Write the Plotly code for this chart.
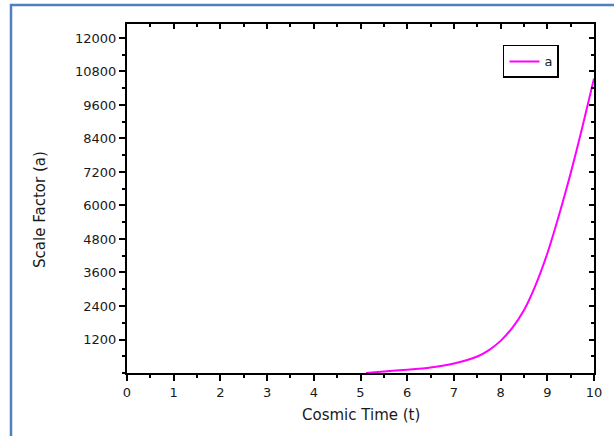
import plotly.graph_objects as go

# data
cosmic_time = [5.12, 5.5, 6.0, 6.5, 7.0, 7.5, 7.75, 8.0, 8.25, 8.5, 8.75, 9.0, 9.25, 9.5, 9.75, 10.0]
scale_factor = [0, 55, 120, 200, 340, 590, 820, 1150, 1620, 2250, 3150, 4280, 5650, 7150, 8800, 10550]
y_tick_vals = [1200, 2400, 3600, 4800, 6000, 7200, 8400, 9600, 10800, 12000]
y_tick_text = ["1200", "2400", "3600", "4800", "6000", "7200", "8400", "9600", "10800", "12000"]
x_tick_vals = [0, 1, 2, 3, 4, 5, 6, 7, 8, 9, 10]
x_tick_text = ["0", "1", "2", "3", "4", "5", "6", "7", "8", "9", "10"]
series_name = "a"

FONT = "DejaVu Sans"
MAGENTA = "#ff00ff"
TXT = "#1a1a1a"

fig = go.Figure()
fig.add_trace(go.Scatter(
    x=cosmic_time, y=scale_factor, mode="lines", name=series_name,
    line=dict(color=MAGENTA, width=2, shape="spline", smoothing=0.6),
    xaxis="x", yaxis="y",
))
# invisible copy to carry the mirrored top/right axes
fig.add_trace(go.Scatter(
    x=cosmic_time, y=scale_factor, mode="lines", showlegend=False,
    line=dict(color="rgba(0,0,0,0)", width=0), hoverinfo="skip",
    xaxis="x2", yaxis="y2",
))

tickfont = dict(family=FONT, size=13, color=TXT)
axis_common = dict(showline=True, linecolor="black", linewidth=2, showgrid=False,
                   zeroline=False, tickcolor="black", tickwidth=2)

fig.update_layout(
    width=614, height=436,
    margin=dict(l=127, r=16, t=24, b=63),
    paper_bgcolor="white", plot_bgcolor="white",
    font=dict(family=FONT, size=13, color=TXT),
    xaxis=dict(range=[0, 10], tickmode="array", tickvals=x_tick_vals, ticktext=x_tick_text,
               ticks="outside", ticklen=6, tickfont=tickfont,
               minor=dict(tickmode="linear", tick0=0, dtick=0.5, ticks="outside",
                          ticklen=3, tickwidth=2, tickcolor="black"),
               **axis_common),
    yaxis=dict(range=[0, 12500], tickmode="array", tickvals=y_tick_vals, ticktext=y_tick_text,
               ticks="outside", ticklen=6, tickfont=tickfont,
               minor=dict(tickmode="linear", tick0=0, dtick=600, ticks="outside",
                          ticklen=3, tickwidth=2, tickcolor="black"),
               **axis_common),
    xaxis2=dict(range=[0, 10], overlaying="x", side="top", anchor="y2",
                tickmode="array", tickvals=x_tick_vals, showticklabels=False,
                ticks="inside", ticklen=5,
                minor=dict(tickmode="linear", tick0=0, dtick=0.5, ticks="inside",
                           ticklen=3, tickwidth=2, tickcolor="black"),
                **axis_common),
    yaxis2=dict(range=[0, 12500], overlaying="y", side="right", anchor="x2",
                tickmode="array", tickvals=y_tick_vals, showticklabels=False,
                ticks="inside", ticklen=5,
                minor=dict(tickmode="linear", tick0=0, dtick=600, ticks="inside",
                           ticklen=3, tickwidth=2, tickcolor="black"),
                **axis_common),
    legend=dict(x=0.925, y=0.94, xanchor="right", yanchor="top",
                bordercolor="black", borderwidth=1.5, bgcolor="white",
                font=dict(family=FONT, size=13, color=TXT),
                tracegroupgap=0),
    showlegend=True,
    annotations=[
        dict(text="Cosmic Time (t)", xref="paper", yref="paper",
             x=0.5, y=-0.12, xanchor="center", yanchor="middle", showarrow=False,
             font=dict(family=FONT, size=15, color=TXT)),
        dict(text="Scale Factor (a)", xref="paper", yref="paper",
             x=-0.185, y=0.469, xanchor="center", yanchor="middle", showarrow=False,
             textangle=-90, font=dict(family=FONT, size=15, color=TXT)),
    ],
    shapes=[
        dict(type="path", xref="paper", yref="paper",
             path="M -0.2484,-0.5 L -0.2484,1.0544 L 1.2,1.0544",
             line=dict(color="#4f81bd", width=2.5)),
    ],
)

fig.write_html("out.html", config={"displayModeBar": False},
               post_script="document.body.style.margin='0px';")
